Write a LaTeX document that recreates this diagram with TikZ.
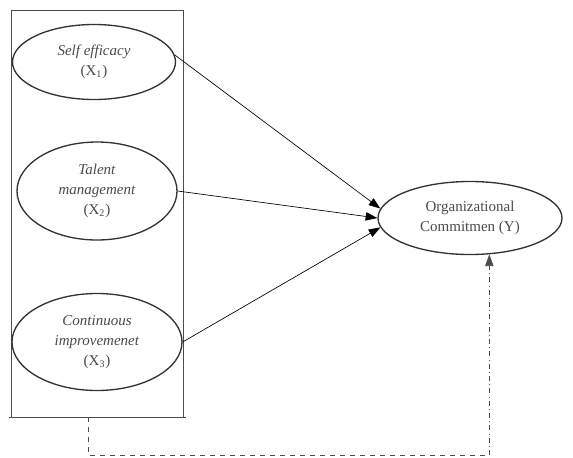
\documentclass[tikz,border=0pt]{standalone}
\usepackage{fontspec}
\setmainfont{Liberation Serif}
\usetikzlibrary{shapes.geometric,arrows.meta}
\definecolor{txtgray}{HTML}{4A4A4A}

\begin{document}
\begin{tikzpicture}[
    x=0.6pt, y=-0.6pt,
    var/.style={%
      draw=black!80,
      thick,
      ellipse,
      align=center,
      inner sep=0pt,
      text=txtgray,
      font=\fontsize{9}{12}\selectfont,
    },
    path/.style={%
      draw,
      thin,
      -{Triangle[length=7pt,width=5pt]},
    },
  ]

    \useasboundingbox (0,0) rectangle (573,457);

    \draw [black!70] (11,10) rectangle (183,417);
    \draw [black!70] (9,417) -- (186,417);

    \node [var, minimum width=163*0.6pt, minimum height=75*0.6pt] (X1) at (94,62)
      {\textit{Self efficacy}\\(X\textsubscript{1})};
    \node [var, minimum width=160*0.6pt, minimum height=98*0.6pt] (X2) at (97,191)
      {\textit{Talent}\\\textit{management}\\(X\textsubscript{2})};
    \node [var, minimum width=170*0.6pt, minimum height=97*0.6pt] (X3) at (97,342)
      {\textit{Continuous}\\\textit{improvemenet}\\(X\textsubscript{3})};
    \node [var, minimum width=184*0.6pt, minimum height=73*0.6pt] (Y) at (470,218)
      {Organizational\\Commitmen (Y)};

    \draw [path] (X1.5) -- (Y.174);
    \draw [path] (X2.east) -- (Y.180);
    \draw [path] (X3.east) -- (Y.186);

    \coordinate (boxfoot) at (88,417);
    \coordinate (bend) at (Y.-62 |- 0,455);
    \draw [black!70, dashed] (boxfoot) |- (bend);
    \draw [path, black!70, dash dot] (bend) -- (Y.-62);

\end{tikzpicture}
\end{document}
